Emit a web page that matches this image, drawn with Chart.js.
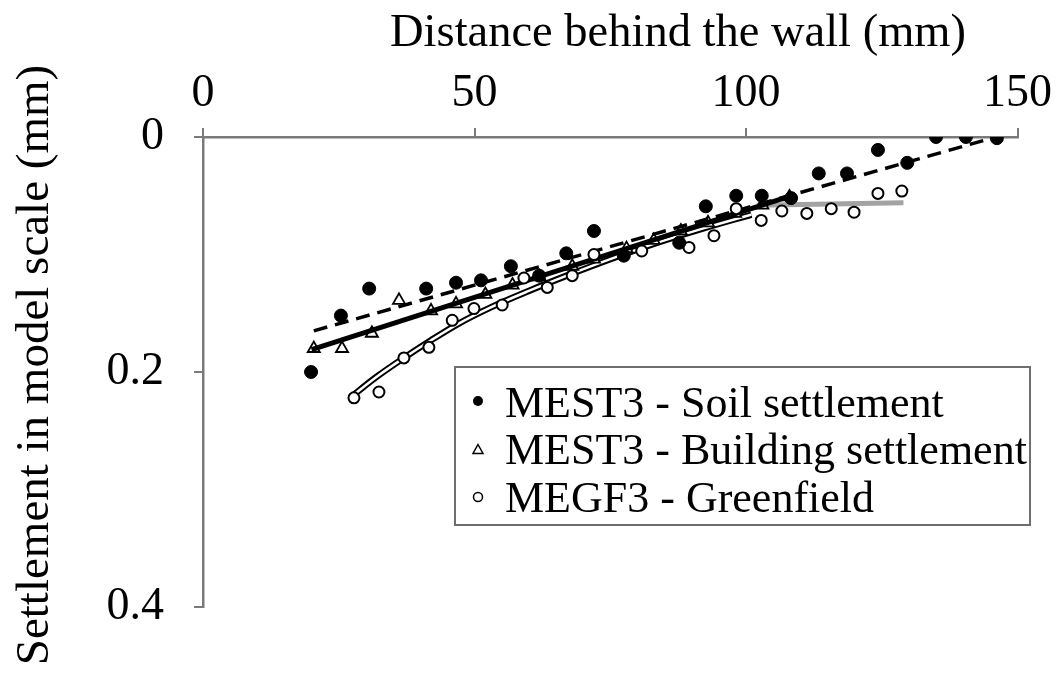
<!DOCTYPE html>
<html>
<head>
<meta charset="utf-8">
<style>
  html, body { margin: 0; padding: 0; background: #fff; }
  #wrap { width: 1058px; height: 675px; position: relative; }
</style>
<script src="https://cdn.jsdelivr.net/npm/chart.js@4.4.1/dist/chart.umd.min.js"></script>
</head>
<body>
<div id="wrap"><canvas id="c" width="1058" height="675"></canvas></div>
<script>
// ---- Data ----
const xTitle = 'Distance behind the wall (mm)';
const yTitle = 'Settlement in model scale (mm)';
const xTicks = [0, 50, 100, 150];
const yTicks = [0, 0.2, 0.4];

const soilLabel = 'MEST3 - Soil settlement';
const soilX = [19.9, 25.4, 30.6, 41.1, 46.6, 51.2, 56.7, 61.9, 66.9, 72.0, 77.5, 87.7, 92.6, 98.2, 102.9, 108.3, 113.4, 118.6, 124.3, 129.7, 135.0, 140.5, 146.2];
const soilY = [0.200, 0.152, 0.129, 0.129, 0.124, 0.122, 0.110, 0.118, 0.099, 0.080, 0.101, 0.090, 0.059, 0.050, 0.050, 0.052, 0.031, 0.031, 0.011, 0.022, 0.000, 0.000, 0.001];

const bldgLabel = 'MEST3 - Building settlement';
const bldgX = [20.4, 25.6, 31.1, 36.1, 42.0, 46.6, 52.0, 57.0, 62.0, 68.0, 72.0, 78.0, 83.0, 88.0, 93.0, 98.0, 103.0, 108.0];
const bldgY = [0.180, 0.180, 0.167, 0.139, 0.148, 0.142, 0.134, 0.126, 0.119, 0.110, 0.104, 0.095, 0.088, 0.080, 0.073, 0.065, 0.058, 0.051];

const gfLabel = 'MEGF3 - Greenfield';
const gfX = [27.8, 32.4, 37.0, 41.6, 45.9, 49.9, 55.1, 59.1, 63.4, 68.0, 72.0, 80.8, 89.5, 94.1, 98.2, 102.8, 106.6, 111.2, 115.7, 119.9, 124.3, 128.7];
const gfY = [0.222, 0.217, 0.188, 0.179, 0.156, 0.146, 0.143, 0.120, 0.128, 0.118, 0.100, 0.097, 0.094, 0.084, 0.061, 0.071, 0.063, 0.065, 0.061, 0.064, 0.048, 0.046];

// Trend lines
const soilTrendX = [20.4, 146.0];
const soilTrendY = [0.165, 0.000];
const bldgTrendX = [20.0, 109.0];
const bldgTrendY = [0.181, 0.049];
const gfTrendX = [27.3, 32, 37, 42, 47, 53, 60, 67, 75, 83, 92, 101];
const gfTrendY = [0.221, 0.204, 0.188, 0.173, 0.159, 0.145, 0.131, 0.118, 0.104, 0.091, 0.078, 0.066];
const grayTrendX = [102, 129];
const grayTrendY = [0.058, 0.056];

// ---- helpers ----
const pts = (xs, ys) => xs.map((x, i) => ({ x: x, y: ys[i] }));
const FONT = "'Liberation Serif', 'Times New Roman', serif";
const AXIS = '#7a7a7a';

const datasets = [
  { label: soilLabel, data: pts(soilX, soilY), showLine: false, order: 1,
    pointStyle: 'circle', pointRadius: 6.5, backgroundColor: '#000', borderColor: '#000', borderWidth: 1 },
  { label: gfLabel, data: pts(gfX, gfY), showLine: false, order: 2,
    pointStyle: 'circle', pointRadius: 5.5, backgroundColor: '#fff', borderColor: '#000', borderWidth: 2 },
  { label: bldgLabel, data: pts(bldgX, bldgY), showLine: false, order: 6,
    pointStyle: 'triangle', pointRadius: 7, backgroundColor: '#fff', borderColor: '#000', borderWidth: 1.8 },
  { label: '_soilTrend', data: pts(soilTrendX, soilTrendY), showLine: true, order: 3,
    pointRadius: 0, borderColor: '#000', borderWidth: 3.5, borderDash: [14, 8] },
  { label: '_bldgTrend', data: pts(bldgTrendX, bldgTrendY), showLine: true, order: 4,
    pointRadius: 0, borderColor: '#000', borderWidth: 5 },
  { label: '_gfTrendInner', data: pts(gfTrendX, gfTrendY), showLine: true, order: 7,
    pointRadius: 0, borderColor: '#fff', borderWidth: 2.5, tension: 0.4, cubicInterpolationMode: 'monotone' },
  { label: '_gfTrendOuter', data: pts(gfTrendX, gfTrendY), showLine: true, order: 8,
    pointRadius: 0, borderColor: '#000', borderWidth: 6.5, tension: 0.4, cubicInterpolationMode: 'monotone' },
  { label: '_grayTrend', data: pts(grayTrendX, grayTrendY), showLine: true, order: 9,
    pointRadius: 0, borderColor: '#a3a3a3', borderWidth: 5 }
];

// Axis titles and boxed legend drawn on the canvas
const decor = {
  id: 'decor',
  afterDraw(chart) {
    const ctx = chart.ctx;
    ctx.save();
    ctx.fillStyle = '#000';
    // axis titles
    ctx.font = '46.5px ' + FONT;
    ctx.textAlign = 'center';
    ctx.textBaseline = 'middle';
    ctx.fillText(xTitle, 678, 34);
    ctx.save();
    ctx.translate(36, 365);
    ctx.rotate(-Math.PI / 2);
    ctx.font = '47px ' + FONT;
    ctx.fillText(yTitle, 0, 0);
    ctx.restore();

    // legend box
    const bx = 455, by = 367, bw = 575, bh = 158;
    ctx.fillStyle = '#fff';
    ctx.fillRect(bx, by, bw, bh);
    ctx.strokeStyle = '#6e6e6e';
    ctx.lineWidth = 2;
    ctx.strokeRect(bx, by, bw, bh);
    const entries = [0, 2, 1].map(i => chart.data.datasets[i]);
    ctx.font = '44px ' + FONT;
    ctx.textAlign = 'left';
    ctx.textBaseline = 'middle';
    ctx.fillStyle = '#000';
    entries.forEach((ds, k) => {
      const cy = by + 36 + k * 47.5;
      const mx = bx + 23;
      ctx.beginPath();
      ctx.lineWidth = 1.5;
      ctx.strokeStyle = '#000';
      if (ds.pointStyle === 'triangle') {
        ctx.moveTo(mx, cy - 6); ctx.lineTo(mx + 5, cy + 3); ctx.lineTo(mx - 5, cy + 3); ctx.closePath();
        ctx.stroke();
      } else if (ds.backgroundColor === '#000') {
        ctx.arc(mx, cy - 2, 5, 0, Math.PI * 2); ctx.fill();
      } else {
        ctx.arc(mx, cy - 1, 4.5, 0, Math.PI * 2); ctx.stroke();
      }
      ctx.fillText(ds.label, bx + 50, cy + 2);
    });
    ctx.restore();
  }
};

new Chart(document.getElementById('c'), {
  type: 'scatter',
  data: { datasets: datasets },
  options: {
    responsive: false,
    animation: false,
    layout: { padding: { left: 0, right: 39, top: 0, bottom: 68 } },
    plugins: { legend: { display: false }, tooltip: { enabled: false } },
    scales: {
      x: {
        type: 'linear', position: 'top', min: 0, max: 150,
        afterBuildTicks: s => { s.ticks = xTicks.map(v => ({ value: v })); },
        afterFit: s => { s.height = 137; },
        title: { display: false, text: xTitle },
        ticks: { color: '#000', font: { family: FONT, size: 46 }, padding: 6, maxRotation: 0 },
        grid: { drawOnChartArea: false, drawTicks: true, tickLength: 9, color: AXIS, lineWidth: 2 },
        border: { display: true, color: AXIS, width: 2.5 }
      },
      y: {
        type: 'linear', position: 'left', min: 0, max: 0.4, reverse: true,
        afterBuildTicks: s => { s.ticks = yTicks.map(v => ({ value: v })); },
        afterFit: s => { s.width = 203; },
        title: { display: false, text: yTitle },
        ticks: { color: '#000', font: { family: FONT, size: 46 }, padding: 30, callback: v => String(v) },
        grid: { drawOnChartArea: false, drawTicks: true, tickLength: 9, color: AXIS, lineWidth: 2 },
        border: { display: true, color: AXIS, width: 2.5 }
      }
    }
  },
  plugins: [decor]
});
</script>
</body>
</html>
